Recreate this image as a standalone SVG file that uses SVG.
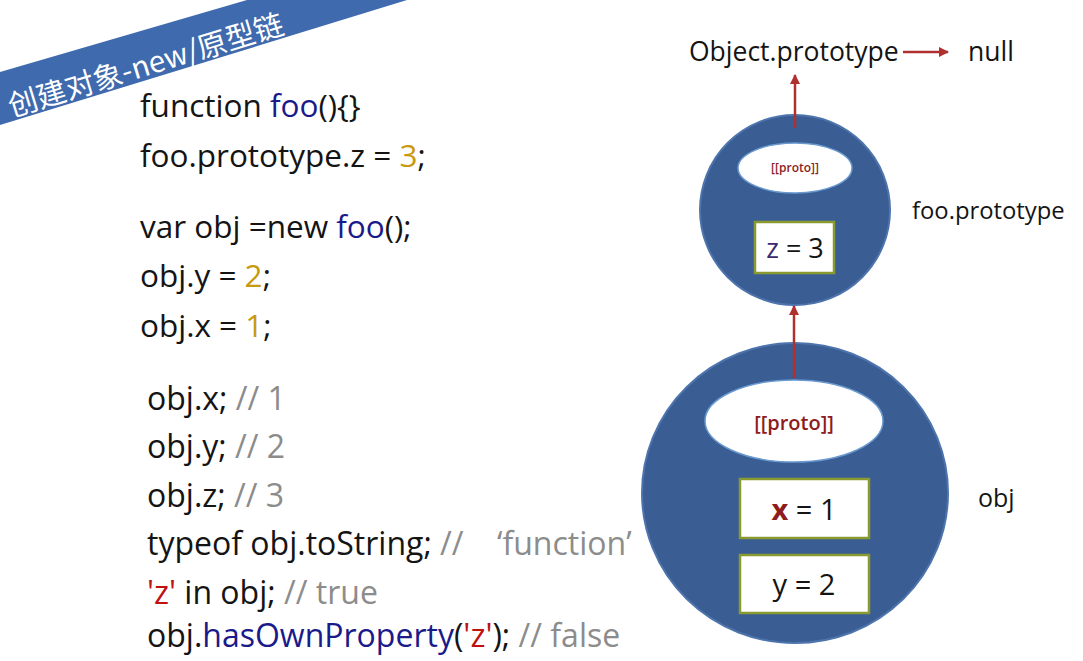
<svg xmlns="http://www.w3.org/2000/svg" width="1083" height="661" viewBox="0 0 1083 661">
  <defs>
    <marker id="arrow" viewBox="0 0 10 10" refX="9" refY="5" markerWidth="4" markerHeight="4" orient="auto-start-reverse" markerUnits="strokeWidth">
      <path d="M0,0 L10,5 L0,10 z" fill="#b03030"/>
    </marker>
  </defs>
  <style>
    .code { font-family: "Open Sans", "Noto Sans", sans-serif; font-size: 31.5px; fill: #141414; }
    .code2 { font-family: "Open Sans", "Noto Sans", sans-serif; font-size: 32px; fill: #141414; }
    .kw { fill: #1a1a8a; }
    .num { fill: #c89a10; }
    .cmt { fill: #8c8c8c; }
    .str { fill: #c01010; }
    .label { font-family: "Open Sans", "Noto Sans", sans-serif; fill: #141414; }
    .circle { fill: #3a5e93; stroke: #4d74ad; stroke-width: 2; }
    .slot { fill: #ffffff; stroke: #6a9ad0; stroke-width: 1.5; }
    .prop { fill: #ffffff; stroke: #8a9a30; stroke-width: 2.5; }
    .proto { font-family: "Open Sans", "Noto Sans", sans-serif; fill: #8e1c1c; font-weight: 600; text-anchor: middle; }
    .link { stroke: #b03030; stroke-width: 2.5; fill: none; }
  </style>
  <rect width="1083" height="661" fill="#ffffff"/>

  <!-- title banner -->
  <g id="banner">
    <polygon points="0,72 247,0 407,0 0,125" fill="#3f6aae"/>
    <text transform="translate(12,117) rotate(-17)" font-family="Noto Sans CJK SC, sans-serif" font-size="29.5" fill="#ffffff">创建对象-new/原型链</text>
  </g>

  <!-- source code -->
  <g id="code">
    <text class="code" x="140" y="117">function <tspan class="kw">foo</tspan>(){}</text>
    <text class="code" x="140" y="167">foo.prototype.z = <tspan class="num">3</tspan>;</text>
    <text class="code" x="140" y="238">var obj =new <tspan class="kw">foo</tspan>();</text>
    <text class="code" x="140" y="287">obj.y = <tspan class="num">2</tspan>;</text>
    <text class="code" x="140" y="337">obj.x = <tspan class="num">1</tspan>;</text>
    <text class="code2" x="147" y="410">obj.x; <tspan class="cmt">// 1</tspan></text>
    <text class="code2" x="147" y="458">obj.y; <tspan class="cmt">// 2</tspan></text>
    <text class="code2" x="147" y="507">obj.z; <tspan class="cmt">// 3</tspan></text>
    <text class="code2" x="147" y="555">typeof obj.toString; <tspan class="cmt">//</tspan><tspan class="cmt" x="497">‘function’</tspan></text>
    <text class="code2" x="147" y="604"><tspan class="str">'z'</tspan> in obj; <tspan class="cmt">// true</tspan></text>
    <text class="code2" x="147" y="647">obj.<tspan class="kw">hasOwnProperty</tspan>(<tspan class="str">'z'</tspan>); <tspan class="cmt">// false</tspan></text>
  </g>

  <!-- Object.prototype -->
  <g id="object-prototype">
    <text class="label" x="689" y="61" font-size="26.5">Object.prototype</text>
  </g>
  <g id="null">
    <text class="label" x="968" y="61" font-size="26.5">null</text>
  </g>

  <!-- foo.prototype -->
  <g id="foo-prototype">
    <circle class="circle" cx="795" cy="210" r="95"/>
    <ellipse class="slot" cx="795" cy="168" rx="57" ry="25"/>
    <text class="proto" x="795" y="172" font-size="12">[[proto]]</text>
    <rect class="prop" x="755" y="222" width="79" height="51"/>
    <text class="label" x="795" y="258" font-size="27" text-anchor="middle"><tspan fill="#3a2a70">z</tspan> = 3</text>
    <text class="label" x="912" y="219" font-size="23.8">foo.prototype</text>
  </g>

  <!-- obj -->
  <g id="obj">
    <ellipse class="circle" cx="795" cy="493" rx="153" ry="150"/>
    <ellipse class="slot" cx="794" cy="421" rx="89" ry="41"/>
    <text class="proto" x="794" y="430" font-size="20">[[proto]]</text>
    <rect class="prop" x="740" y="479" width="129" height="59"/>
    <text class="label" x="804" y="520" font-size="29" text-anchor="middle"><tspan fill="#8e1c1c" font-weight="700">x</tspan> = 1</text>
    <rect class="prop" x="740" y="555" width="129" height="58"/>
    <text class="label" x="804" y="595" font-size="29" text-anchor="middle">y = 2</text>
    <text class="label" x="978" y="507" font-size="25">obj</text>
  </g>

  <!-- prototype chain links -->
  <g id="connectors">
    <line class="link" x1="795" y1="128" x2="795" y2="75" marker-end="url(#arrow)"/>
    <line class="link" x1="794" y1="378" x2="794" y2="306" marker-end="url(#arrow)"/>
    <line class="link" x1="903" y1="52" x2="948" y2="52" marker-end="url(#arrow)"/>
  </g>
</svg>
